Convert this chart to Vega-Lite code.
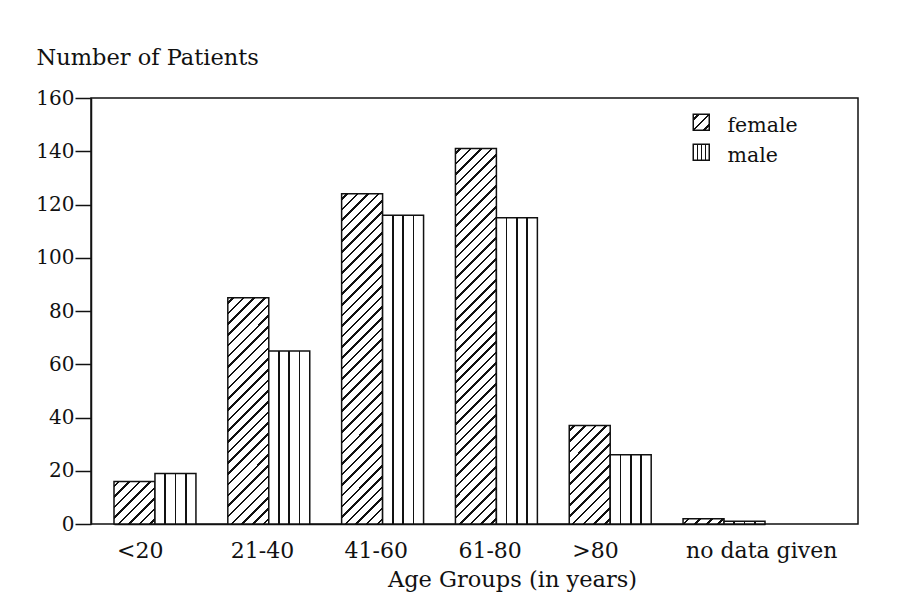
{
  "$schema": "https://vega.github.io/schema/vega-lite/v6.json",
  "width": 767,
  "height": 426,
  "autosize": "none",
  "padding": {"left": 91, "top": 98, "right": 45, "bottom": 89},
  "background": "#ffffff",
  "config": {
    "view": {"stroke": "#111", "strokeWidth": 1.5},
    "font": "DejaVu Serif"
  },
  "data": {
    "values": [
      {"age": "<20", "sex": "female", "patients": 16},
      {"age": "<20", "sex": "male", "patients": 19},
      {"age": "21-40", "sex": "female", "patients": 85},
      {"age": "21-40", "sex": "male", "patients": 65},
      {"age": "41-60", "sex": "female", "patients": 124},
      {"age": "41-60", "sex": "male", "patients": 116},
      {"age": "61-80", "sex": "female", "patients": 141},
      {"age": "61-80", "sex": "male", "patients": 115},
      {"age": ">80", "sex": "female", "patients": 37},
      {"age": ">80", "sex": "male", "patients": 26},
      {"age": "no data given", "sex": "female", "patients": 2},
      {"age": "no data given", "sex": "male", "patients": 1}
    ]
  },
  "mark": {"type": "bar", "stroke": "#111", "strokeWidth": 1.5},
  "encoding": {
    "x": {
      "field": "age", "type": "nominal",
      "sort": ["<20", "21-40", "41-60", "61-80", ">80", "no data given"],
      "scale": {"range": [23, 674], "paddingInner": 0.28, "paddingOuter": 0},
      "axis": {
        "title": "Age Groups (in years)",
        "ticks": false, "tickSize": 0, "labelAngle": 0,
        "labelAlign": "left", "labelOffset": -38,
        "labelFont": "DejaVu Serif", "labelFontSize": 22, "labelColor": "#111", "labelPadding": 16,
        "domainColor": "#111", "domainWidth": 1.5,
        "titleFont": "DejaVu Serif", "titleFontSize": 22.5, "titleFontWeight": "normal", "titleColor": "#111",
        "titleX": 421, "titleY": 62, "titleBaseline": "alphabetic", "titleAlign": "center"
      }
    },
    "xOffset": {"field": "sex", "type": "nominal", "scale": {"paddingInner": 0, "paddingOuter": 0}},
    "y": {
      "field": "patients", "type": "quantitative",
      "scale": {"domain": [0, 160], "nice": false},
      "axis": {
        "title": "Number of Patients",
        "values": [0, 20, 40, 60, 80, 100, 120, 140, 160],
        "grid": false, "tickSize": 16, "tickWidth": 1.5, "tickColor": "#111",
        "domainColor": "#111", "domainWidth": 1.5,
        "labelFont": "DejaVu Serif", "labelFontSize": 20, "labelColor": "#111", "labelPadding": 1,
        "labelFlush": false, "labelOverlap": false,
        "titleFont": "DejaVu Serif", "titleFontSize": 22.5, "titleFontWeight": "normal", "titleColor": "#111",
        "titleAngle": 0, "titleAlign": "left", "titleBaseline": "alphabetic", "titleX": -55, "titleY": -34
      }
    },
    "fill": {
      "field": "sex", "type": "nominal",
      "scale": {
        "domain": ["female", "male"],
        "range": [
          {"expr": "{gradient: 'linear', x1: 0, y1: 0, x2: 1, y2: 1, stops: [{offset: 0.1267, color: '#fff'}, {offset: 0.1267, color: '#111'}, {offset: 0.2067, color: '#111'}, {offset: 0.2067, color: '#fff'}, {offset: 0.46, color: '#fff'}, {offset: 0.46, color: '#111'}, {offset: 0.54, color: '#111'}, {offset: 0.54, color: '#fff'}, {offset: 0.7933, color: '#fff'}, {offset: 0.7933, color: '#111'}, {offset: 0.8733, color: '#111'}, {offset: 0.8733, color: '#fff'}]}"},
          {"expr": "{gradient: 'linear', x1: 0, y1: 0, x2: 1, y2: 0, stops: [{offset: 0.23, color: '#fff'}, {offset: 0.23, color: '#111'}, {offset: 0.27, color: '#111'}, {offset: 0.27, color: '#fff'}, {offset: 0.48, color: '#fff'}, {offset: 0.48, color: '#111'}, {offset: 0.52, color: '#111'}, {offset: 0.52, color: '#fff'}, {offset: 0.73, color: '#fff'}, {offset: 0.73, color: '#111'}, {offset: 0.77, color: '#111'}, {offset: 0.77, color: '#fff'}]}"}
        ]
      },
      "legend": {
        "title": null, "orient": "none", "legendX": 600, "legendY": 14, "direction": "vertical",
        "symbolType": "square", "symbolSize": 256, "symbolStrokeWidth": 1.5, "symbolStrokeColor": "#111",
        "labelFont": "DejaVu Serif", "labelFontSize": 20.5, "labelColor": "#111",
        "labelOffset": 16, "rowPadding": 4, "padding": 0,
        "encode": {
          "labels": {
            "dy": {"value": 4},
            "update": {"dy": {"value": 4}}
          }
        }
      },
      "condition": [
        {"test": "datum.sex === 'female' && datum.age === '<20'", "value": {"gradient": "linear", "x1": 0, "y1": 0, "x2": 0.9805, "y2": 1.0188, "stops": [
          {"offset": 0.0475, "color": "#fff"}, {"offset": 0.0475, "color": "#111"}, {"offset": 0.0775, "color": "#111"}, {"offset": 0.0775, "color": "#fff"},
          {"offset": 0.1725, "color": "#fff"}, {"offset": 0.1725, "color": "#111"}, {"offset": 0.2025, "color": "#111"}, {"offset": 0.2025, "color": "#fff"},
          {"offset": 0.2975, "color": "#fff"}, {"offset": 0.2975, "color": "#111"}, {"offset": 0.3275, "color": "#111"}, {"offset": 0.3275, "color": "#fff"},
          {"offset": 0.4225, "color": "#fff"}, {"offset": 0.4225, "color": "#111"}, {"offset": 0.4525, "color": "#111"}, {"offset": 0.4525, "color": "#fff"},
          {"offset": 0.5475, "color": "#fff"}, {"offset": 0.5475, "color": "#111"}, {"offset": 0.5775, "color": "#111"}, {"offset": 0.5775, "color": "#fff"},
          {"offset": 0.6725, "color": "#fff"}, {"offset": 0.6725, "color": "#111"}, {"offset": 0.7025, "color": "#111"}, {"offset": 0.7025, "color": "#fff"},
          {"offset": 0.7975, "color": "#fff"}, {"offset": 0.7975, "color": "#111"}, {"offset": 0.8275, "color": "#111"}, {"offset": 0.8275, "color": "#fff"},
          {"offset": 0.9225, "color": "#fff"}, {"offset": 0.9225, "color": "#111"}, {"offset": 0.9525, "color": "#111"}, {"offset": 0.9525, "color": "#fff"}
        ]}},
        {"test": "datum.sex === 'female' && datum.age === '21-40'", "value": {"gradient": "linear", "x1": 0, "y1": 0, "x2": 0.2072, "y2": 1.1436, "stops": [
          {"offset": 0.0152, "color": "#fff"}, {"offset": 0.0152, "color": "#111"}, {"offset": 0.0248, "color": "#111"}, {"offset": 0.0248, "color": "#fff"},
          {"offset": 0.0552, "color": "#fff"}, {"offset": 0.0552, "color": "#111"}, {"offset": 0.0648, "color": "#111"}, {"offset": 0.0648, "color": "#fff"},
          {"offset": 0.0952, "color": "#fff"}, {"offset": 0.0952, "color": "#111"}, {"offset": 0.1048, "color": "#111"}, {"offset": 0.1048, "color": "#fff"},
          {"offset": 0.1352, "color": "#fff"}, {"offset": 0.1352, "color": "#111"}, {"offset": 0.1448, "color": "#111"}, {"offset": 0.1448, "color": "#fff"},
          {"offset": 0.1752, "color": "#fff"}, {"offset": 0.1752, "color": "#111"}, {"offset": 0.1848, "color": "#111"}, {"offset": 0.1848, "color": "#fff"},
          {"offset": 0.2152, "color": "#fff"}, {"offset": 0.2152, "color": "#111"}, {"offset": 0.2248, "color": "#111"}, {"offset": 0.2248, "color": "#fff"},
          {"offset": 0.2552, "color": "#fff"}, {"offset": 0.2552, "color": "#111"}, {"offset": 0.2648, "color": "#111"}, {"offset": 0.2648, "color": "#fff"},
          {"offset": 0.2952, "color": "#fff"}, {"offset": 0.2952, "color": "#111"}, {"offset": 0.3048, "color": "#111"}, {"offset": 0.3048, "color": "#fff"},
          {"offset": 0.3352, "color": "#fff"}, {"offset": 0.3352, "color": "#111"}, {"offset": 0.3448, "color": "#111"}, {"offset": 0.3448, "color": "#fff"},
          {"offset": 0.3752, "color": "#fff"}, {"offset": 0.3752, "color": "#111"}, {"offset": 0.3848, "color": "#111"}, {"offset": 0.3848, "color": "#fff"},
          {"offset": 0.4152, "color": "#fff"}, {"offset": 0.4152, "color": "#111"}, {"offset": 0.4248, "color": "#111"}, {"offset": 0.4248, "color": "#fff"},
          {"offset": 0.4552, "color": "#fff"}, {"offset": 0.4552, "color": "#111"}, {"offset": 0.4648, "color": "#111"}, {"offset": 0.4648, "color": "#fff"},
          {"offset": 0.4952, "color": "#fff"}, {"offset": 0.4952, "color": "#111"}, {"offset": 0.5048, "color": "#111"}, {"offset": 0.5048, "color": "#fff"},
          {"offset": 0.5352, "color": "#fff"}, {"offset": 0.5352, "color": "#111"}, {"offset": 0.5448, "color": "#111"}, {"offset": 0.5448, "color": "#fff"},
          {"offset": 0.5752, "color": "#fff"}, {"offset": 0.5752, "color": "#111"}, {"offset": 0.5848, "color": "#111"}, {"offset": 0.5848, "color": "#fff"},
          {"offset": 0.6152, "color": "#fff"}, {"offset": 0.6152, "color": "#111"}, {"offset": 0.6248, "color": "#111"}, {"offset": 0.6248, "color": "#fff"},
          {"offset": 0.6552, "color": "#fff"}, {"offset": 0.6552, "color": "#111"}, {"offset": 0.6648, "color": "#111"}, {"offset": 0.6648, "color": "#fff"},
          {"offset": 0.6952, "color": "#fff"}, {"offset": 0.6952, "color": "#111"}, {"offset": 0.7048, "color": "#111"}, {"offset": 0.7048, "color": "#fff"},
          {"offset": 0.7352, "color": "#fff"}, {"offset": 0.7352, "color": "#111"}, {"offset": 0.7448, "color": "#111"}, {"offset": 0.7448, "color": "#fff"},
          {"offset": 0.7752, "color": "#fff"}, {"offset": 0.7752, "color": "#111"}, {"offset": 0.7848, "color": "#111"}, {"offset": 0.7848, "color": "#fff"},
          {"offset": 0.8152, "color": "#fff"}, {"offset": 0.8152, "color": "#111"}, {"offset": 0.8248, "color": "#111"}, {"offset": 0.8248, "color": "#fff"},
          {"offset": 0.8552, "color": "#fff"}, {"offset": 0.8552, "color": "#111"}, {"offset": 0.8648, "color": "#111"}, {"offset": 0.8648, "color": "#fff"},
          {"offset": 0.8952, "color": "#fff"}, {"offset": 0.8952, "color": "#111"}, {"offset": 0.9048, "color": "#111"}, {"offset": 0.9048, "color": "#fff"},
          {"offset": 0.9352, "color": "#fff"}, {"offset": 0.9352, "color": "#111"}, {"offset": 0.9448, "color": "#111"}, {"offset": 0.9448, "color": "#fff"},
          {"offset": 0.9752, "color": "#fff"}, {"offset": 0.9752, "color": "#111"}, {"offset": 0.9848, "color": "#111"}, {"offset": 0.9848, "color": "#fff"}
        ]}},
        {"test": "datum.sex === 'female' && datum.age === '41-60'", "value": {"gradient": "linear", "x1": 0, "y1": 0, "x2": 0.1375, "y2": 1.1071, "stops": [
          {"offset": 0.0109, "color": "#fff"}, {"offset": 0.0109, "color": "#111"}, {"offset": 0.0177, "color": "#111"}, {"offset": 0.0177, "color": "#fff"},
          {"offset": 0.0394, "color": "#fff"}, {"offset": 0.0394, "color": "#111"}, {"offset": 0.0463, "color": "#111"}, {"offset": 0.0463, "color": "#fff"},
          {"offset": 0.0680, "color": "#fff"}, {"offset": 0.0680, "color": "#111"}, {"offset": 0.0749, "color": "#111"}, {"offset": 0.0749, "color": "#fff"},
          {"offset": 0.0966, "color": "#fff"}, {"offset": 0.0966, "color": "#111"}, {"offset": 0.1034, "color": "#111"}, {"offset": 0.1034, "color": "#fff"},
          {"offset": 0.1251, "color": "#fff"}, {"offset": 0.1251, "color": "#111"}, {"offset": 0.1320, "color": "#111"}, {"offset": 0.1320, "color": "#fff"},
          {"offset": 0.1537, "color": "#fff"}, {"offset": 0.1537, "color": "#111"}, {"offset": 0.1606, "color": "#111"}, {"offset": 0.1606, "color": "#fff"},
          {"offset": 0.1823, "color": "#fff"}, {"offset": 0.1823, "color": "#111"}, {"offset": 0.1891, "color": "#111"}, {"offset": 0.1891, "color": "#fff"},
          {"offset": 0.2109, "color": "#fff"}, {"offset": 0.2109, "color": "#111"}, {"offset": 0.2177, "color": "#111"}, {"offset": 0.2177, "color": "#fff"},
          {"offset": 0.2394, "color": "#fff"}, {"offset": 0.2394, "color": "#111"}, {"offset": 0.2463, "color": "#111"}, {"offset": 0.2463, "color": "#fff"},
          {"offset": 0.2680, "color": "#fff"}, {"offset": 0.2680, "color": "#111"}, {"offset": 0.2749, "color": "#111"}, {"offset": 0.2749, "color": "#fff"},
          {"offset": 0.2966, "color": "#fff"}, {"offset": 0.2966, "color": "#111"}, {"offset": 0.3034, "color": "#111"}, {"offset": 0.3034, "color": "#fff"},
          {"offset": 0.3251, "color": "#fff"}, {"offset": 0.3251, "color": "#111"}, {"offset": 0.3320, "color": "#111"}, {"offset": 0.3320, "color": "#fff"},
          {"offset": 0.3537, "color": "#fff"}, {"offset": 0.3537, "color": "#111"}, {"offset": 0.3606, "color": "#111"}, {"offset": 0.3606, "color": "#fff"},
          {"offset": 0.3823, "color": "#fff"}, {"offset": 0.3823, "color": "#111"}, {"offset": 0.3891, "color": "#111"}, {"offset": 0.3891, "color": "#fff"},
          {"offset": 0.4109, "color": "#fff"}, {"offset": 0.4109, "color": "#111"}, {"offset": 0.4177, "color": "#111"}, {"offset": 0.4177, "color": "#fff"},
          {"offset": 0.4394, "color": "#fff"}, {"offset": 0.4394, "color": "#111"}, {"offset": 0.4463, "color": "#111"}, {"offset": 0.4463, "color": "#fff"},
          {"offset": 0.4680, "color": "#fff"}, {"offset": 0.4680, "color": "#111"}, {"offset": 0.4749, "color": "#111"}, {"offset": 0.4749, "color": "#fff"},
          {"offset": 0.4966, "color": "#fff"}, {"offset": 0.4966, "color": "#111"}, {"offset": 0.5034, "color": "#111"}, {"offset": 0.5034, "color": "#fff"},
          {"offset": 0.5251, "color": "#fff"}, {"offset": 0.5251, "color": "#111"}, {"offset": 0.5320, "color": "#111"}, {"offset": 0.5320, "color": "#fff"},
          {"offset": 0.5537, "color": "#fff"}, {"offset": 0.5537, "color": "#111"}, {"offset": 0.5606, "color": "#111"}, {"offset": 0.5606, "color": "#fff"},
          {"offset": 0.5823, "color": "#fff"}, {"offset": 0.5823, "color": "#111"}, {"offset": 0.5891, "color": "#111"}, {"offset": 0.5891, "color": "#fff"},
          {"offset": 0.6109, "color": "#fff"}, {"offset": 0.6109, "color": "#111"}, {"offset": 0.6177, "color": "#111"}, {"offset": 0.6177, "color": "#fff"},
          {"offset": 0.6394, "color": "#fff"}, {"offset": 0.6394, "color": "#111"}, {"offset": 0.6463, "color": "#111"}, {"offset": 0.6463, "color": "#fff"},
          {"offset": 0.6680, "color": "#fff"}, {"offset": 0.6680, "color": "#111"}, {"offset": 0.6749, "color": "#111"}, {"offset": 0.6749, "color": "#fff"},
          {"offset": 0.6966, "color": "#fff"}, {"offset": 0.6966, "color": "#111"}, {"offset": 0.7034, "color": "#111"}, {"offset": 0.7034, "color": "#fff"},
          {"offset": 0.7251, "color": "#fff"}, {"offset": 0.7251, "color": "#111"}, {"offset": 0.7320, "color": "#111"}, {"offset": 0.7320, "color": "#fff"},
          {"offset": 0.7537, "color": "#fff"}, {"offset": 0.7537, "color": "#111"}, {"offset": 0.7606, "color": "#111"}, {"offset": 0.7606, "color": "#fff"},
          {"offset": 0.7823, "color": "#fff"}, {"offset": 0.7823, "color": "#111"}, {"offset": 0.7891, "color": "#111"}, {"offset": 0.7891, "color": "#fff"},
          {"offset": 0.8109, "color": "#fff"}, {"offset": 0.8109, "color": "#111"}, {"offset": 0.8177, "color": "#111"}, {"offset": 0.8177, "color": "#fff"},
          {"offset": 0.8394, "color": "#fff"}, {"offset": 0.8394, "color": "#111"}, {"offset": 0.8463, "color": "#111"}, {"offset": 0.8463, "color": "#fff"},
          {"offset": 0.8680, "color": "#fff"}, {"offset": 0.8680, "color": "#111"}, {"offset": 0.8749, "color": "#111"}, {"offset": 0.8749, "color": "#fff"},
          {"offset": 0.8966, "color": "#fff"}, {"offset": 0.8966, "color": "#111"}, {"offset": 0.9034, "color": "#111"}, {"offset": 0.9034, "color": "#fff"},
          {"offset": 0.9251, "color": "#fff"}, {"offset": 0.9251, "color": "#111"}, {"offset": 0.9320, "color": "#111"}, {"offset": 0.9320, "color": "#fff"},
          {"offset": 0.9537, "color": "#fff"}, {"offset": 0.9537, "color": "#111"}, {"offset": 0.9606, "color": "#111"}, {"offset": 0.9606, "color": "#fff"},
          {"offset": 0.9823, "color": "#fff"}, {"offset": 0.9823, "color": "#111"}, {"offset": 0.9891, "color": "#111"}, {"offset": 0.9891, "color": "#fff"}
        ]}},
        {"test": "datum.sex === 'female' && datum.age === '61-80'", "value": {"gradient": "linear", "x1": 0, "y1": 0, "x2": 0.1197, "y2": 1.0961, "stops": [
          {"offset": 0.0095, "color": "#fff"}, {"offset": 0.0095, "color": "#111"}, {"offset": 0.0155, "color": "#111"}, {"offset": 0.0155, "color": "#fff"},
          {"offset": 0.0345, "color": "#fff"}, {"offset": 0.0345, "color": "#111"}, {"offset": 0.0405, "color": "#111"}, {"offset": 0.0405, "color": "#fff"},
          {"offset": 0.0595, "color": "#fff"}, {"offset": 0.0595, "color": "#111"}, {"offset": 0.0655, "color": "#111"}, {"offset": 0.0655, "color": "#fff"},
          {"offset": 0.0845, "color": "#fff"}, {"offset": 0.0845, "color": "#111"}, {"offset": 0.0905, "color": "#111"}, {"offset": 0.0905, "color": "#fff"},
          {"offset": 0.1095, "color": "#fff"}, {"offset": 0.1095, "color": "#111"}, {"offset": 0.1155, "color": "#111"}, {"offset": 0.1155, "color": "#fff"},
          {"offset": 0.1345, "color": "#fff"}, {"offset": 0.1345, "color": "#111"}, {"offset": 0.1405, "color": "#111"}, {"offset": 0.1405, "color": "#fff"},
          {"offset": 0.1595, "color": "#fff"}, {"offset": 0.1595, "color": "#111"}, {"offset": 0.1655, "color": "#111"}, {"offset": 0.1655, "color": "#fff"},
          {"offset": 0.1845, "color": "#fff"}, {"offset": 0.1845, "color": "#111"}, {"offset": 0.1905, "color": "#111"}, {"offset": 0.1905, "color": "#fff"},
          {"offset": 0.2095, "color": "#fff"}, {"offset": 0.2095, "color": "#111"}, {"offset": 0.2155, "color": "#111"}, {"offset": 0.2155, "color": "#fff"},
          {"offset": 0.2345, "color": "#fff"}, {"offset": 0.2345, "color": "#111"}, {"offset": 0.2405, "color": "#111"}, {"offset": 0.2405, "color": "#fff"},
          {"offset": 0.2595, "color": "#fff"}, {"offset": 0.2595, "color": "#111"}, {"offset": 0.2655, "color": "#111"}, {"offset": 0.2655, "color": "#fff"},
          {"offset": 0.2845, "color": "#fff"}, {"offset": 0.2845, "color": "#111"}, {"offset": 0.2905, "color": "#111"}, {"offset": 0.2905, "color": "#fff"},
          {"offset": 0.3095, "color": "#fff"}, {"offset": 0.3095, "color": "#111"}, {"offset": 0.3155, "color": "#111"}, {"offset": 0.3155, "color": "#fff"},
          {"offset": 0.3345, "color": "#fff"}, {"offset": 0.3345, "color": "#111"}, {"offset": 0.3405, "color": "#111"}, {"offset": 0.3405, "color": "#fff"},
          {"offset": 0.3595, "color": "#fff"}, {"offset": 0.3595, "color": "#111"}, {"offset": 0.3655, "color": "#111"}, {"offset": 0.3655, "color": "#fff"},
          {"offset": 0.3845, "color": "#fff"}, {"offset": 0.3845, "color": "#111"}, {"offset": 0.3905, "color": "#111"}, {"offset": 0.3905, "color": "#fff"},
          {"offset": 0.4095, "color": "#fff"}, {"offset": 0.4095, "color": "#111"}, {"offset": 0.4155, "color": "#111"}, {"offset": 0.4155, "color": "#fff"},
          {"offset": 0.4345, "color": "#fff"}, {"offset": 0.4345, "color": "#111"}, {"offset": 0.4405, "color": "#111"}, {"offset": 0.4405, "color": "#fff"},
          {"offset": 0.4595, "color": "#fff"}, {"offset": 0.4595, "color": "#111"}, {"offset": 0.4655, "color": "#111"}, {"offset": 0.4655, "color": "#fff"},
          {"offset": 0.4845, "color": "#fff"}, {"offset": 0.4845, "color": "#111"}, {"offset": 0.4905, "color": "#111"}, {"offset": 0.4905, "color": "#fff"},
          {"offset": 0.5095, "color": "#fff"}, {"offset": 0.5095, "color": "#111"}, {"offset": 0.5155, "color": "#111"}, {"offset": 0.5155, "color": "#fff"},
          {"offset": 0.5345, "color": "#fff"}, {"offset": 0.5345, "color": "#111"}, {"offset": 0.5405, "color": "#111"}, {"offset": 0.5405, "color": "#fff"},
          {"offset": 0.5595, "color": "#fff"}, {"offset": 0.5595, "color": "#111"}, {"offset": 0.5655, "color": "#111"}, {"offset": 0.5655, "color": "#fff"},
          {"offset": 0.5845, "color": "#fff"}, {"offset": 0.5845, "color": "#111"}, {"offset": 0.5905, "color": "#111"}, {"offset": 0.5905, "color": "#fff"},
          {"offset": 0.6095, "color": "#fff"}, {"offset": 0.6095, "color": "#111"}, {"offset": 0.6155, "color": "#111"}, {"offset": 0.6155, "color": "#fff"},
          {"offset": 0.6345, "color": "#fff"}, {"offset": 0.6345, "color": "#111"}, {"offset": 0.6405, "color": "#111"}, {"offset": 0.6405, "color": "#fff"},
          {"offset": 0.6595, "color": "#fff"}, {"offset": 0.6595, "color": "#111"}, {"offset": 0.6655, "color": "#111"}, {"offset": 0.6655, "color": "#fff"},
          {"offset": 0.6845, "color": "#fff"}, {"offset": 0.6845, "color": "#111"}, {"offset": 0.6905, "color": "#111"}, {"offset": 0.6905, "color": "#fff"},
          {"offset": 0.7095, "color": "#fff"}, {"offset": 0.7095, "color": "#111"}, {"offset": 0.7155, "color": "#111"}, {"offset": 0.7155, "color": "#fff"},
          {"offset": 0.7345, "color": "#fff"}, {"offset": 0.7345, "color": "#111"}, {"offset": 0.7405, "color": "#111"}, {"offset": 0.7405, "color": "#fff"},
          {"offset": 0.7595, "color": "#fff"}, {"offset": 0.7595, "color": "#111"}, {"offset": 0.7655, "color": "#111"}, {"offset": 0.7655, "color": "#fff"},
          {"offset": 0.7845, "color": "#fff"}, {"offset": 0.7845, "color": "#111"}, {"offset": 0.7905, "color": "#111"}, {"offset": 0.7905, "color": "#fff"},
          {"offset": 0.8095, "color": "#fff"}, {"offset": 0.8095, "color": "#111"}, {"offset": 0.8155, "color": "#111"}, {"offset": 0.8155, "color": "#fff"},
          {"offset": 0.8345, "color": "#fff"}, {"offset": 0.8345, "color": "#111"}, {"offset": 0.8405, "color": "#111"}, {"offset": 0.8405, "color": "#fff"},
          {"offset": 0.8595, "color": "#fff"}, {"offset": 0.8595, "color": "#111"}, {"offset": 0.8655, "color": "#111"}, {"offset": 0.8655, "color": "#fff"},
          {"offset": 0.8845, "color": "#fff"}, {"offset": 0.8845, "color": "#111"}, {"offset": 0.8905, "color": "#111"}, {"offset": 0.8905, "color": "#fff"},
          {"offset": 0.9095, "color": "#fff"}, {"offset": 0.9095, "color": "#111"}, {"offset": 0.9155, "color": "#111"}, {"offset": 0.9155, "color": "#fff"},
          {"offset": 0.9345, "color": "#fff"}, {"offset": 0.9345, "color": "#111"}, {"offset": 0.9405, "color": "#111"}, {"offset": 0.9405, "color": "#fff"},
          {"offset": 0.9595, "color": "#fff"}, {"offset": 0.9595, "color": "#111"}, {"offset": 0.9655, "color": "#111"}, {"offset": 0.9655, "color": "#fff"},
          {"offset": 0.9845, "color": "#fff"}, {"offset": 0.9845, "color": "#111"}, {"offset": 0.9905, "color": "#111"}, {"offset": 0.9905, "color": "#fff"}
        ]}},
        {"test": "datum.sex === 'female' && datum.age === '>80'", "value": {"gradient": "linear", "x1": 0, "y1": 0, "x2": 0.5025, "y2": 1.2071, "stops": [
          {"offset": 0.0292, "color": "#fff"}, {"offset": 0.0292, "color": "#111"}, {"offset": 0.0477, "color": "#111"}, {"offset": 0.0477, "color": "#fff"},
          {"offset": 0.1062, "color": "#fff"}, {"offset": 0.1062, "color": "#111"}, {"offset": 0.1246, "color": "#111"}, {"offset": 0.1246, "color": "#fff"},
          {"offset": 0.1831, "color": "#fff"}, {"offset": 0.1831, "color": "#111"}, {"offset": 0.2015, "color": "#111"}, {"offset": 0.2015, "color": "#fff"},
          {"offset": 0.2600, "color": "#fff"}, {"offset": 0.2600, "color": "#111"}, {"offset": 0.2785, "color": "#111"}, {"offset": 0.2785, "color": "#fff"},
          {"offset": 0.3369, "color": "#fff"}, {"offset": 0.3369, "color": "#111"}, {"offset": 0.3554, "color": "#111"}, {"offset": 0.3554, "color": "#fff"},
          {"offset": 0.4138, "color": "#fff"}, {"offset": 0.4138, "color": "#111"}, {"offset": 0.4323, "color": "#111"}, {"offset": 0.4323, "color": "#fff"},
          {"offset": 0.4908, "color": "#fff"}, {"offset": 0.4908, "color": "#111"}, {"offset": 0.5092, "color": "#111"}, {"offset": 0.5092, "color": "#fff"},
          {"offset": 0.5677, "color": "#fff"}, {"offset": 0.5677, "color": "#111"}, {"offset": 0.5862, "color": "#111"}, {"offset": 0.5862, "color": "#fff"},
          {"offset": 0.6446, "color": "#fff"}, {"offset": 0.6446, "color": "#111"}, {"offset": 0.6631, "color": "#111"}, {"offset": 0.6631, "color": "#fff"},
          {"offset": 0.7215, "color": "#fff"}, {"offset": 0.7215, "color": "#111"}, {"offset": 0.7400, "color": "#111"}, {"offset": 0.7400, "color": "#fff"},
          {"offset": 0.7985, "color": "#fff"}, {"offset": 0.7985, "color": "#111"}, {"offset": 0.8169, "color": "#111"}, {"offset": 0.8169, "color": "#fff"},
          {"offset": 0.8754, "color": "#fff"}, {"offset": 0.8754, "color": "#111"}, {"offset": 0.8938, "color": "#111"}, {"offset": 0.8938, "color": "#fff"},
          {"offset": 0.9523, "color": "#fff"}, {"offset": 0.9523, "color": "#111"}, {"offset": 0.9708, "color": "#111"}, {"offset": 0.9708, "color": "#fff"}
        ]}},
        {"test": "datum.sex === 'female' && datum.age === 'no data given'", "value": {"gradient": "linear", "x1": 0, "y1": 0, "x2": 1.1107, "y2": 0.1436, "stops": [
          {"offset": 0.095, "color": "#fff"}, {"offset": 0.095, "color": "#111"}, {"offset": 0.155, "color": "#111"}, {"offset": 0.155, "color": "#fff"},
          {"offset": 0.345, "color": "#fff"}, {"offset": 0.345, "color": "#111"}, {"offset": 0.405, "color": "#111"}, {"offset": 0.405, "color": "#fff"},
          {"offset": 0.595, "color": "#fff"}, {"offset": 0.595, "color": "#111"}, {"offset": 0.655, "color": "#111"}, {"offset": 0.655, "color": "#fff"},
          {"offset": 0.845, "color": "#fff"}, {"offset": 0.845, "color": "#111"}, {"offset": 0.905, "color": "#111"}, {"offset": 0.905, "color": "#fff"}
        ]}}
      ]
    }
  }
}
